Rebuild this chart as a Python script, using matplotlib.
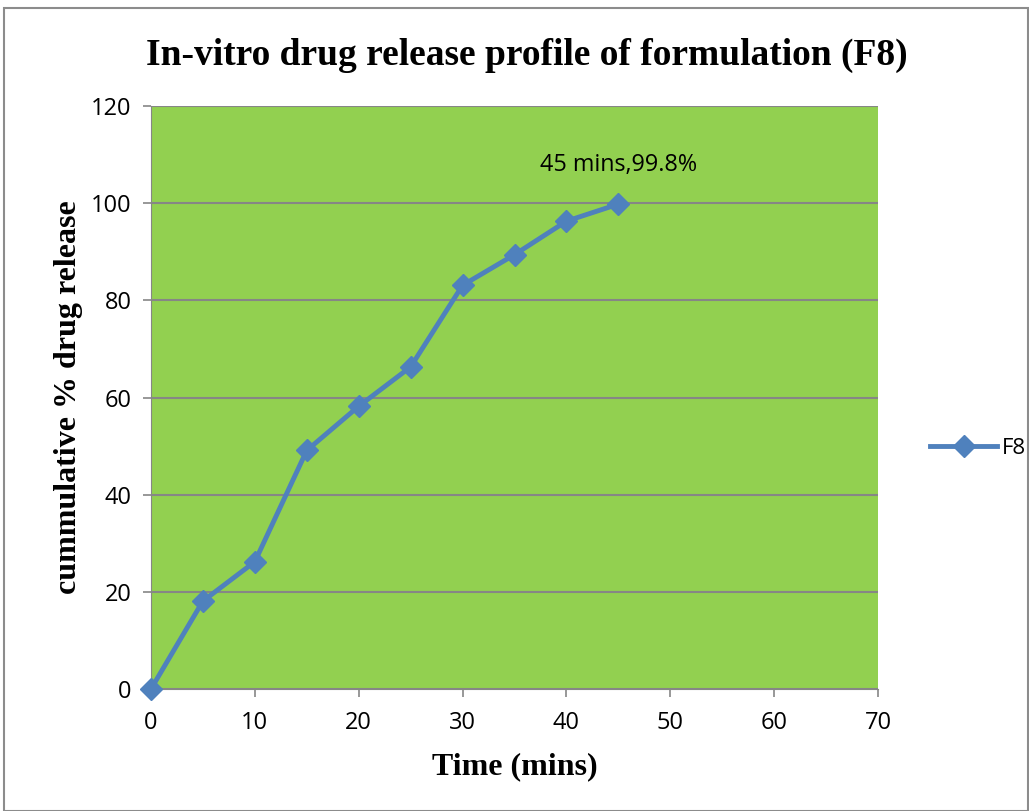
import matplotlib.pyplot as plt
from matplotlib.patches import Rectangle

time_mins = [0, 5, 10, 15, 20, 25, 30, 35, 40, 45]
release_f8 = [0, 18.1, 26.2, 49.1, 58.2, 66.3, 83.1, 89.4, 96.3, 99.8]
x_ticks = [0, 10, 20, 30, 40, 50, 60, 70]
y_ticks = [0, 20, 40, 60, 80, 100, 120]

fig = plt.figure(figsize=(10.29, 8.11), dpi=100)
fig.patches.append(Rectangle((0.004, 0.0), 0.995, 0.99, transform=fig.transFigure,
                             fill=False, edgecolor='#8c8c8c', linewidth=1.5))
ax = fig.add_axes([0.1467, 0.1504, 0.7066, 0.7189])
ax.set_facecolor('#92D050')

ax.plot(time_mins, release_f8, color='#4F81BD', linewidth=3.5, marker='D',
        markersize=11, label='F8', zorder=3, clip_on=False)

ax.set_xlim(0, 70)
ax.set_ylim(0, 120)
ax.set_xticks(x_ticks)
ax.set_yticks(y_ticks)
ax.yaxis.grid(True, color='#868686', linewidth=1.5)
ax.set_axisbelow(True)
for s in ['top', 'right']:
    ax.spines[s].set_visible(False)
ax.spines['left'].set_color('#868686')
ax.spines['bottom'].set_color('#868686')
ax.tick_params(axis='both', colors='#868686', labelcolor='black', labelsize=17,
               length=6, width=1.2)
ax.tick_params(axis='x', pad=10)
ax.tick_params(axis='y', pad=8)
for lab in ax.get_xticklabels() + ax.get_yticklabels():
    lab.set_family('Open Sans')

ax.annotate('45 mins,99.8%', (time_mins[-1], release_f8[-1]), xytext=(0, 24),
            textcoords='offset points', ha='center', fontsize=16.8, family='Open Sans')

fig.text(0.512, 0.932, 'In-vitro drug release profile of formulation (F8)', ha='center',
         va='center', fontsize=27, fontweight='bold', family='Liberation Serif')
ax.set_xlabel('Time (mins)', fontsize=23, fontweight='bold', family='Liberation Serif',
              labelpad=12)
ax.set_ylabel('cummulative % drug release', fontsize=23, fontweight='bold',
              family='Liberation Serif', labelpad=6)

leg = ax.legend(loc='center left', bbox_to_anchor=(1.072, 0.413), frameon=False,
                prop={'family': 'Open Sans', 'size': 16}, handlelength=3.0,
                handletextpad=0.2, borderaxespad=0, borderpad=0)

fig.savefig('out.png', dpi=100)
